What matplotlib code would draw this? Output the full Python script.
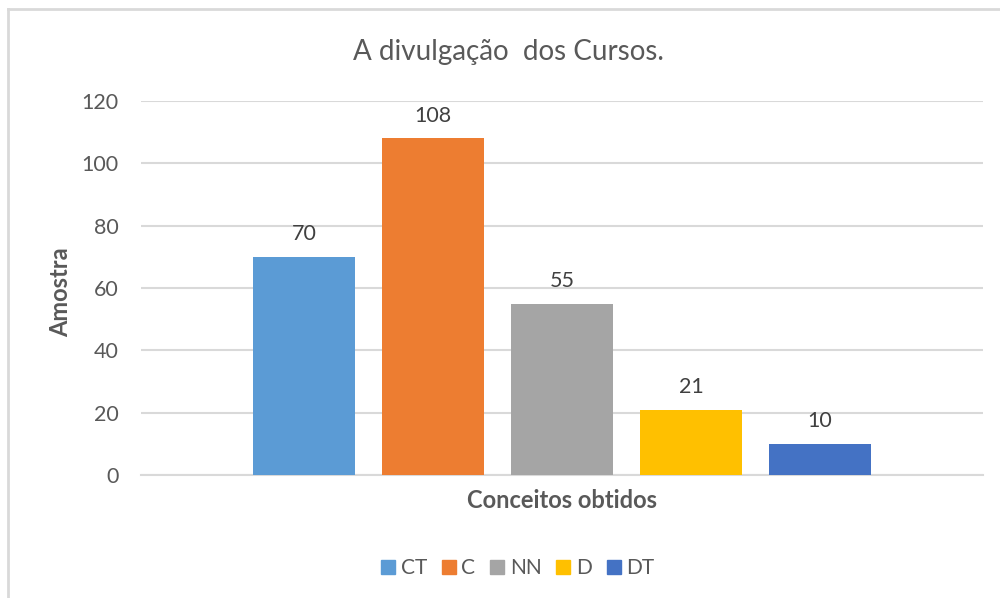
import numpy as np
import matplotlib.pyplot as plt
from matplotlib.lines import Line2D

# Chart data
categories = ['CT', 'C', 'NN', 'D', 'DT']
values = [70, 108, 55, 21, 10]
colors = ['#5B9BD5', '#ED7D31', '#A5A5A5', '#FFC000', '#4472C4']

TEXT = '#595959'
GRID = '#D9D9D9'

plt.rcParams['font.family'] = ['Lato', 'DejaVu Sans']

fig = plt.figure(figsize=(10, 5.98), dpi=100)
ax = fig.add_axes([0.141, 0.2057, 0.842, 0.6254])

x = np.arange(len(categories))
bars = ax.bar(x, values, width=0.79, color=colors, zorder=3)

for b, v in zip(bars, values):
    ax.text(b.get_x() + b.get_width() / 2, v + 4, str(v), ha='center', va='bottom',
            fontsize=15.5, color='#404040')

ax.set_xlim(2 - 3.264, 2 + 3.264)
ax.set_ylim(0, 120)
ax.set_yticks(range(0, 121, 20))
ax.set_xticks([])
ax.grid(axis='y', color=GRID, linewidth=1.5, zorder=0)
for s in ['top', 'right', 'left']:
    ax.spines[s].set_visible(False)
ax.spines['bottom'].set_color(GRID)
ax.spines['bottom'].set_linewidth(1.5)
ax.tick_params(axis='y', length=0, pad=16, labelsize=15.5, labelcolor=TEXT)

fig.text(0.508, 0.913, 'A divulgação  dos Cursos.', ha='center', va='center',
         fontsize=20, color=TEXT)
fig.text(0.061, 0.512, 'Amostra', rotation=90, ha='center', va='center',
         fontsize=17, fontweight='bold', color=TEXT)
fig.text(0.562, 0.163, 'Conceitos obtidos', ha='center', va='center',
         fontsize=17, fontweight='bold', color=TEXT)

handles = [Line2D([], [], marker='s', linestyle='', markersize=10.5,
                  markerfacecolor=c, markeredgecolor=c) for c in colors]
fig.legend(handles, categories, loc='center', bbox_to_anchor=(0.516, 0.05),
           ncol=5, frameon=False, fontsize=15, labelcolor=TEXT,
           handletextpad=0.1, columnspacing=0.55, handlelength=1.0)

# chart border (top and left edges visible)
fig.add_artist(Line2D([0.008, 1.0], [0.985, 0.985], color=GRID, linewidth=2,
                      transform=fig.transFigure))
fig.add_artist(Line2D([0.008, 0.008], [0.0, 0.985], color=GRID, linewidth=2,
                      transform=fig.transFigure))

fig.savefig('out.png', dpi=100)
